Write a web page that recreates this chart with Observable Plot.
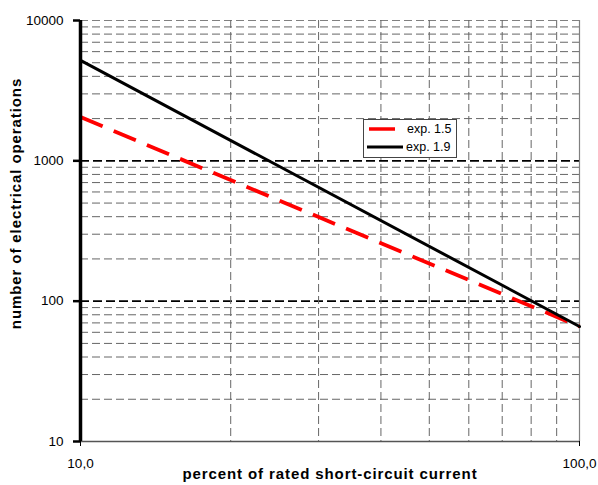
<!DOCTYPE html>
<html><head><meta charset="utf-8">
<script src="https://cdn.jsdelivr.net/npm/d3@7"></script>
<script src="https://cdn.jsdelivr.net/npm/@observablehq/plot@0.6"></script>
<style>
body{margin:0;background:#fff;font-family:"Liberation Sans",Arial,sans-serif;}
#wrap{position:relative;width:598px;height:485px;}
#legend{position:absolute;left:363px;top:119px;width:94px;height:39px;border:1px solid #444;background:#fff;box-sizing:border-box;font-size:12.5px;}
#legend .row{position:absolute;left:2px;display:flex;align-items:center;}
</style></head><body>
<div id="wrap"></div>
<script>
const seriesNames = ["exp. 1.5", "exp. 1.9"];
const currentPct = [10, 100];
const opsExp15 = [2050, 66];
const opsExp19 = [5200, 66];
const xTicks = [10, 100];
const xTickLabels = ["10,0", "100,0"];
const yTicks = [10, 100, 1000, 10000];
const yMinorGrid = [20,30,40,50,60,70,80,90,200,300,400,500,600,700,800,900,2000,3000,4000,5000,6000,7000,8000,9000];
const yMajorGrid = [100, 1000];
const xMinorGrid = [20,30,40,50,60,70,80,90];

const rows = [];
currentPct.forEach((x,i)=>{
  rows.push({series: seriesNames[0], x, y: opsExp15[i]});
  rows.push({series: seriesNames[1], x, y: opsExp19[i]});
});

const chart = Plot.plot({
  width: 598, height: 485,
  marginLeft: 80, marginRight: 19, marginTop: 20, marginBottom: 44,
  style: {fontFamily: '"Liberation Sans", Arial, sans-serif', fontSize: "13.5px", color: "#000", background: "#fff"},
  x: {type: "log", domain: [10, 100]},
  y: {type: "log", domain: [10, 10000]},
  marks: [
    Plot.ruleY(yMinorGrid, {stroke: "#666", strokeWidth: 1, strokeDasharray: "8,4"}),
    Plot.ruleY([10000], {stroke: "#808080", strokeWidth: 1.2, strokeDasharray: "8,4"}),
    Plot.ruleY(yMajorGrid, {stroke: "#000", strokeWidth: 1.8, strokeDasharray: "9,4"}),
    Plot.ruleX(xMinorGrid, {stroke: "#666", strokeWidth: 1, strokeDasharray: "8,4"}),
    Plot.ruleX([100], {stroke: "#808080", strokeWidth: 1.2}),
    Plot.ruleY([10], {stroke: "#555", strokeWidth: 1.5}),
    Plot.line(rows.filter(d=>d.series===seriesNames[0]), {x:"x", y:"y", stroke:"#ff0000", strokeWidth:3.8, strokeDasharray:"24,12", strokeLinecap:"butt"}),
    Plot.line(rows.filter(d=>d.series===seriesNames[1]), {x:"x", y:"y", stroke:"#000", strokeWidth:3}),
    Plot.ruleX([10], {stroke: "#000", strokeWidth: 3.5}),
    Plot.axisY({ticks: yTicks, tickFormat: d=>String(d), tickSize: 7, tickPadding: 10, stroke:"#000", strokeWidth:2.5, fontSize: 13.5,
      label: "number of electrical operations", labelAnchor: "center", labelArrow: false, labelOffset: 70}),
    Plot.axisX({ticks: xTicks, tickFormat: (d,i)=>xTickLabels[xTicks.indexOf(d)], tickSize: 5, tickPadding: 12, fontSize: 13.5,
      label: "percent of rated short-circuit current", labelAnchor: "center", labelArrow: false, labelOffset: 37})
  ]
});
d3.select(chart).selectAll("[aria-label='y-axis label'] text, [aria-label='x-axis label'] text")
  .style("font-weight","bold").style("font-size","15px").style("letter-spacing","0.9px");
d3.select(chart).selectAll("[aria-label='y-axis label'] text").each(function(){
  const t = this.getAttribute("transform") || "";
  const m = t.match(/translate\(([-\d.]+),\s*([-\d.]+)\)(.*)/);
  if (m) this.setAttribute("transform", `translate(${m[1]},203)${m[3]}`);
});
document.getElementById("wrap").appendChild(chart);

const leg = document.createElement("div");
leg.id = "legend";
leg.innerHTML = `
<div class="row" style="top:1px"><svg width="32" height="16"><line x1="3" x2="29" y1="8" y2="8" stroke="#ff0000" stroke-width="3.5"/></svg><span style="margin-left:9px">${seriesNames[0]}</span></div>
<div class="row" style="top:19px"><svg width="37" height="16"><line x1="1" x2="37" y1="8" y2="8" stroke="#000" stroke-width="3"/></svg><span style="margin-left:3px">${seriesNames[1]}</span></div>`;
document.getElementById("wrap").appendChild(leg);
</script>
</body></html>
